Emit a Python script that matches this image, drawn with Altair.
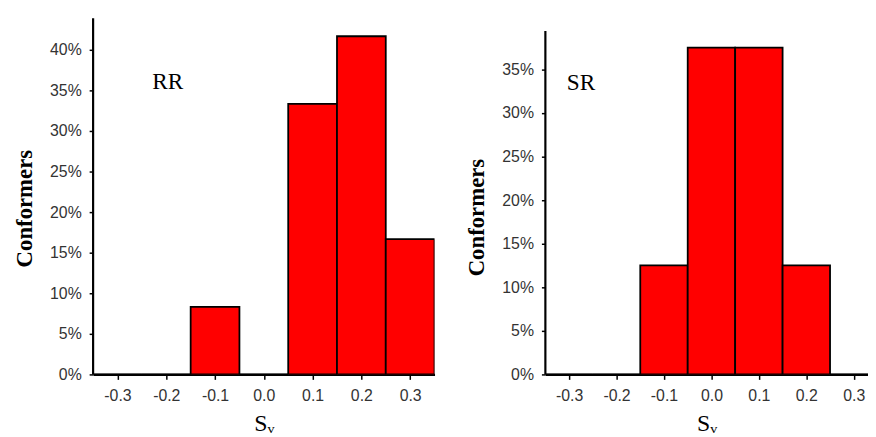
import altair as alt
import pandas as pd

# ---- data ----
sv_centers = [-0.3, -0.2, -0.1, 0.0, 0.1, 0.2, 0.3]
rr_share = [0.0, 0.0, 0.0833, 0.0, 0.3333, 0.4167, 0.1667]
sr_share = [0.0, 0.0, 0.125, 0.375, 0.375, 0.125, 0.0]
x_ticks = [-0.3, -0.2, -0.1, 0.0, 0.1, 0.2, 0.3]
rr_y_ticks = [0.0, 0.05, 0.10, 0.15, 0.20, 0.25, 0.30, 0.35, 0.40]
sr_y_ticks = [0.0, 0.05, 0.10, 0.15, 0.20, 0.25, 0.30, 0.35]
half_bin = 0.05
panel_names = ["RR", "SR"]
panel_label_x = [-0.197, -0.275]
panel_label_y = [0.36, 0.334]
rr_axis_top = 0.439
sr_axis_top = 0.394

SANS = "Liberation Sans"
SERIF = "Liberation Serif"


def panel(share, y_max, y_ticks, x_dom, width, height, name, lx, ly, title_y, axis_top):
    df = pd.DataFrame({"sv": sv_centers, "share": share})
    x_axis = alt.Axis(
        values=x_ticks,
        labelExpr="(datum.value < -0.0001 ? '-' : '') + format(abs(datum.value), '.1f')",
        title="Sᵥ",
        titleFont=SERIF,
        titleFontSize=24,
        titleFontWeight="normal",
        titleColor="black",
        titlePadding=9,
        labelFont=SANS,
        labelFontSize=16,
        labelColor="#333333",
        labelPadding=8,
        domainColor="black",
        domainWidth=2.2,
        tickColor="black",
        tickWidth=1.5,
        tickSize=5,
        grid=False,
    )
    y_axis = alt.Axis(
        values=y_ticks,
        format=".0%",
        title="Conformers",
        titleFont=SERIF,
        titleFontSize=23,
        titleFontWeight="bold",
        titleColor="black",
        titlePadding=13,
        titleY=title_y,
        labelFont=SANS,
        labelFontSize=16,
        labelColor="#333333",
        labelPadding=8,
        domain=False,
        tickColor="black",
        tickWidth=1.5,
        tickSize=4,
        grid=False,
    )
    xs = alt.Scale(domain=x_dom, nice=False, zero=False)
    ys = alt.Scale(domain=[0, y_max], nice=False)
    bars = (
        alt.Chart(df)
        .transform_calculate(
            x0=f"datum.sv - {half_bin}", x1=f"datum.sv + {half_bin}", base="0"
        )
        .mark_bar(color="#FF0000", stroke="black", strokeWidth=1.8, clip=True)
        .encode(
            x=alt.X("x0:Q", scale=xs, axis=x_axis),
            x2="x1:Q",
            y=alt.Y("share:Q", scale=ys, axis=y_axis),
            y2="base:Q",
        )
    )
    axis_line = (
        alt.Chart(pd.DataFrame({"bottom": [0.0], "top": [axis_top]}))
        .mark_rule(color="black", strokeWidth=2.2)
        .encode(x=alt.value(0), y=alt.Y("bottom:Q"), y2="top:Q")
    )
    label = (
        alt.Chart(pd.DataFrame({"x": [lx], "y": [ly], "t": [name]}))
        .mark_text(font=SERIF, fontSize=23.5, color="black", baseline="middle", align="center")
        .encode(x="x:Q", y="y:Q", text="t:N")
    )
    return alt.layer(bars, axis_line, label).properties(width=width, height=height)


left = panel(rr_share, 0.439, rr_y_ticks, [-0.35, 0.35], 345, 360,
             panel_names[0], panel_label_x[0], panel_label_y[0], 192, rr_axis_top)
right = panel(sr_share, 0.4087, sr_y_ticks, [-0.35, 0.33], 326, 360,
              panel_names[1], panel_label_x[1], panel_label_y[1], 201, sr_axis_top)

chart = (
    alt.hconcat(left, right, spacing=31)
    .properties(padding={"left": 5, "top": 6, "right": 0, "bottom": 0})
    .configure_view(stroke=None)
)

chart.save("out.html", embed_options={"renderer": "svg", "actions": False})
